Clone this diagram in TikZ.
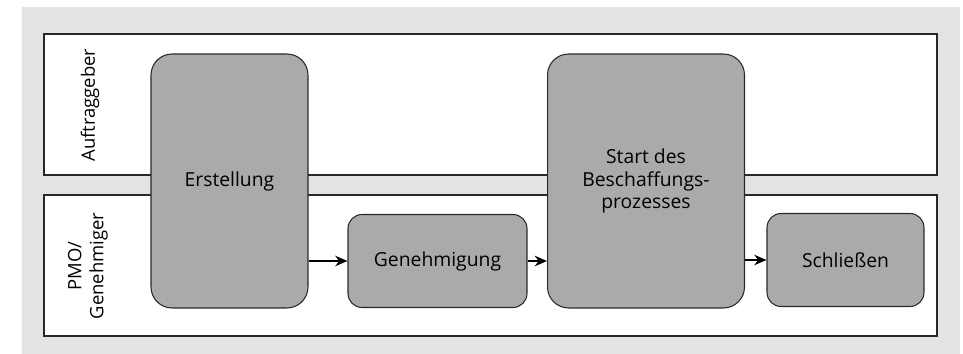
\documentclass[tikz,border=0pt]{standalone}
\usepackage{fontspec}
\setmainfont{Open Sans}
\usepackage{tikz}
\usetikzlibrary{arrows.meta,positioning}
\definecolor{bggray}  {RGB}{227,227,227}
\definecolor{taskgray}{RGB}{170,170,170}
\definecolor{edgegray}{RGB}{40,40,40}
\tikzset{
  lane/.style    ={draw=edgegray, fill=white, line width=0.7pt,
                   minimum width=17.86cm, minimum height=2.82cm, inner sep=0pt},
  lanelabel/.style={rotate=90, align=center, font=\fontsize{10.5}{12.5}\selectfont},
  bigtask/.style ={draw=edgegray, fill=taskgray, rounded corners=0.42cm,
                   line width=0.6pt, minimum width=#1, minimum height=5.08cm,
                   align=center, font=\fontsize{11}{13}\selectfont, inner sep=0pt},
  smalltask/.style={draw=edgegray, fill=taskgray, rounded corners=0.28cm,
                   line width=0.6pt, minimum width=#1, minimum height=1.86cm,
                   align=center, font=\fontsize{11}{13}\selectfont, inner sep=0pt},
  arr/.style     ={-{Stealth[length=7pt,width=6pt]}, line width=0.9pt, black},
}
\begin{document}
\begin{tikzpicture}[x=0.02cm,y=-0.02cm]
  \useasboundingbox (0,0) rectangle (963,354);
  \fill[bggray] (22,7) rectangle (960,354);
  %% swimlanes
  \node[lane] (auftr) at (490.5,104.5) {};
  \node[lane] (pmo)   at (490.5,265.5) {};
  \node[lanelabel] (auftrlbl) at (90,105) {Auftraggeber};
  \node[lanelabel] (pmolbl)   at (88,266) {PMO/\\Genehmiger};
  %% tasks
  \node[bigtask=3.14cm]   (erst)  at (229.5,181) {Erstellung};
  \node[smalltask=3.58cm] (gen)   at (437.5,261) {Genehmigung};
  \node[bigtask=3.94cm]   (start) at (646,181)   {Start des\\Beschaffungs-\\prozesses};
  \node[smalltask=3.14cm] (schl)  at (845.5,260) {Schließen};
  %% flow
  \draw[arr] (erst.east |- gen.west) -- (gen.west);
  \draw[arr] (gen.east) -- (start.west |- gen.east);
  \draw[arr] (start.east |- schl.west) -- (schl.west);
\end{tikzpicture}
\end{document}
